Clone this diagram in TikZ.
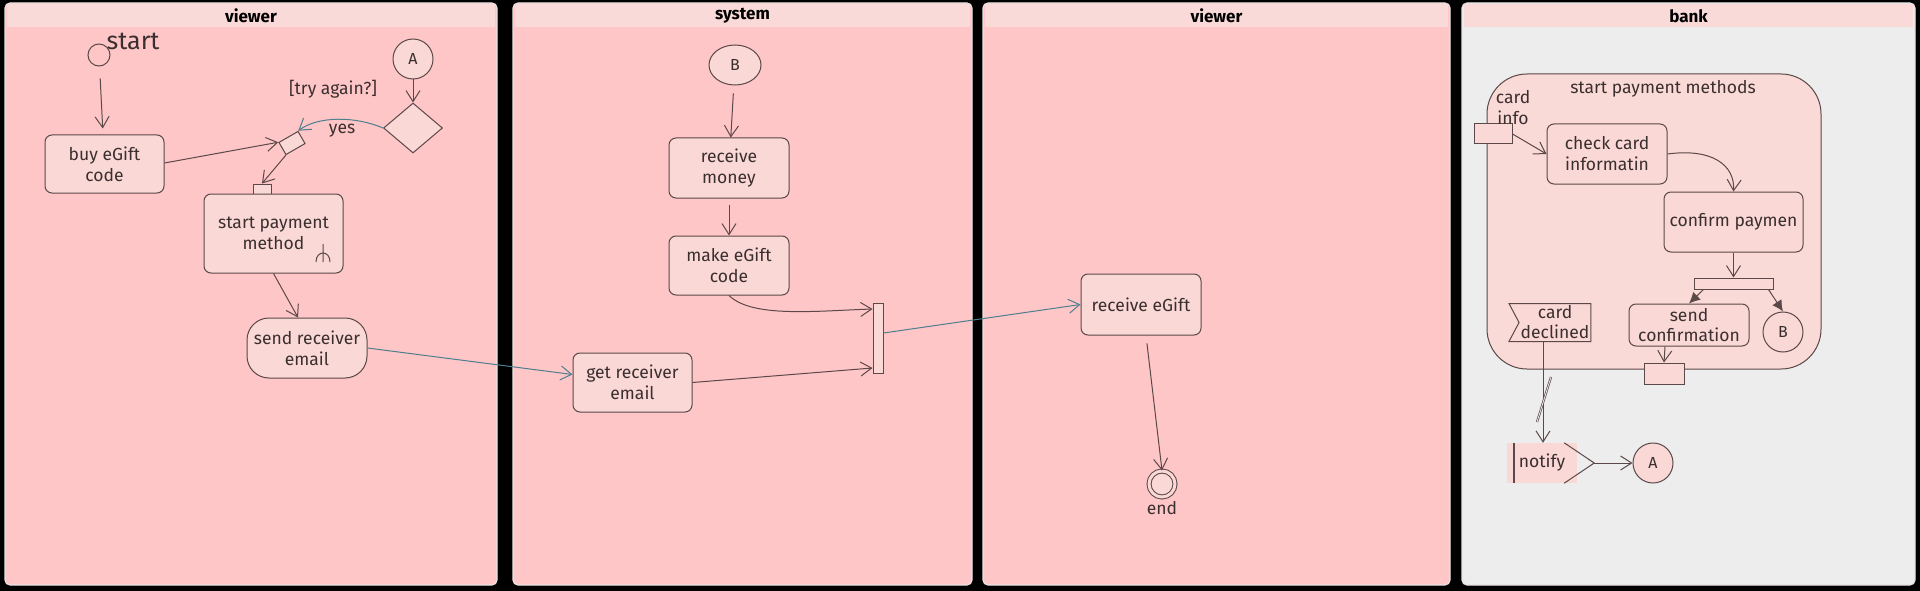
\documentclass[tikz,border=0pt]{standalone}
\usepackage{fontspec}
\setmainfont{Fira Sans}
\usetikzlibrary{arrows.meta,shapes.geometric,shapes.symbols,positioning,calc}
\definecolor{lanepink}{HTML}{FFC6C8}
\definecolor{headpink}{HTML}{FADAD8}
\definecolor{boxfill}{HTML}{F9D8D6}
\definecolor{bankgray}{HTML}{EDEDED}
\definecolor{regionfill}{HTML}{FADAD6}
\definecolor{laneedge}{HTML}{E8E2E2}
\definecolor{lineclr}{HTML}{5B4848}
\definecolor{tealclr}{HTML}{4E7F8C}
\definecolor{textcol}{HTML}{3A2E2E}
\tikzset{
  % Define standard arrow tip
  >={Straight Barb[length=11pt,width=14pt]},
  % Define style for swimlanes
  lane/.style={draw=laneedge, line width=1.2pt, rounded corners=5pt},
  lanetitle/.style={font=\bfseries\fontsize{17}{20}\selectfont, text=black},
  % Define style for boxes
  box/.style={
    rectangle,
    rounded corners=7pt,
    draw=lineclr, line width=1pt,
    fill=boxfill,
    align=center,
    inner sep=1pt,
    text=textcol,
    font=\fontsize{17.5}{21}\selectfont},
  % Define round style
  round/.style={
    circle, draw=lineclr, fill=boxfill, line width=1pt,
    minimum size=40pt, inner sep=0pt,
    text=textcol, font=\fontsize{16}{18}\selectfont},
  % pins and bars
  pinbox/.style={rectangle, draw=lineclr, fill=boxfill, line width=1pt, inner sep=0pt},
  barbox/.style={rectangle, draw=lineclr, fill=boxfill, line width=1pt, inner sep=0pt},
  % plain text
  txt/.style={text=textcol, inner sep=1pt, font=\fontsize{17.5}{21}\selectfont},
  % Define arrow style
  arrow/.style={->, draw=lineclr, line width=1pt},
  flow/.style={->, draw=tealclr, line width=1pt},
  forkarrow/.style={-{Latex[length=11pt,width=11pt]}, draw=lineclr, line width=1pt},
}
\def\swimlane#1#2#3#4#5{ % #1 name, #2 left, #3 right, #4 fill, #5 title
\filldraw[lane, fill=#4] (#2,3) rectangle (#3,585);
\fill[headpink] (#2+2,4) rectangle (#3-2,27);
\node[lanetitle] (#1) at ({(#2+#3)/2},16) {#5};
}

\begin{document}
\begin{tikzpicture}[x=1pt, y=-1pt]
  \fill[black] (0,0) rectangle (1920,591);
  % lanes
  \swimlane{laneA}{5}{497}{lanepink}{viewer}
  \swimlane{laneB}{513}{972}{lanepink}{system}
  \swimlane{laneC}{983}{1450}{lanepink}{viewer}
  \swimlane{laneD}{1462}{1915}{bankgray}{bank}

  % viewer
  \node[circle, draw=lineclr, fill=lanepink, line width=1pt, minimum size=22pt, inner sep=0pt] (start) at (99,55) {};
  \node[txt, font=\fontsize{25}{28}\selectfont] (startlbl) at (133,41) {start};
  \node[box, minimum width=119pt, minimum height=58pt] (buy) at (104.5,164) {buy eGift\\code};
  \node[round] (A) at (413,59) {A};
  \node[diamond, draw=lineclr, fill=boxfill, line width=1pt, minimum width=59pt, minimum height=50pt, inner sep=0pt] (decide) at (413,128) {};
  \node[txt] (try) at (333,89) {[try again?]};
  \node[rectangle, draw=lineclr, fill=boxfill, line width=1pt, minimum width=22pt, minimum height=14pt, inner sep=0pt, rotate=30] (merge) at (292,143) {};
  \node[pinbox, minimum width=18pt, minimum height=10pt] (payin) at (262,189) {};
  \node[box, minimum width=139pt, minimum height=79pt] (pay) at (273.5,233.5) {start payment\\method};
  \draw[lineclr, line width=1pt] (323,244) -- (323,262) (316,262) .. controls (316,250) and (330,250) .. (330,262);
  \node[box, rounded corners=22pt, minimum width=120pt, minimum height=60pt] (sendmail) at (307,348) {send receiver\\email};

  \draw[arrow, shorten <=12pt, shorten >=6pt] (start) -- (buy);
  \draw[arrow] (A) -- (decide.north);
  \draw[arrow] (buy.east) ++(0,-1) -- (merge.north west);
  \draw[flow] (decide.west) .. controls (355,116) and (318,116) .. node[txt, pos=0.45, below=3pt] (yes) {yes} (merge.north east);
  \draw[arrow] (merge.south west) -- (payin.north);
  \draw[arrow] (pay.south) -- ($(sendmail.north)+(-9,0)$);

  % system
  \node[round, ellipse, minimum width=52pt, minimum height=40pt] (B) at (735,65) {B};
  \node[box, minimum width=120pt, minimum height=60pt] (money) at (729,168) {receive\\money};
  \node[box, minimum width=120pt, minimum height=59pt] (make) at (729,265.5) {make eGift\\code};
  \node[box, minimum width=119pt, minimum height=59pt] (getmail) at (632.5,382.5) {get receiver\\email};
  \node[barbox, minimum width=10pt, minimum height=70pt] (join) at (878,338) {};

  \draw[flow] (sendmail.east) -- ($(getmail.west)+(0,-8)$);
  \draw[arrow, shorten <=8pt] (B) -- (money);
  \draw[arrow, shorten <=6pt] (money) -- (make);
  \draw[arrow] (make.south) .. controls (752,318) and (815,311) .. ($(join.west)+(0,-29)$);
  \draw[arrow] (getmail.east) -- ($(join.west)+(0,30)$);

  % viewer again
  \node[box, minimum width=120pt, minimum height=61pt] (gift) at (1141,304.5) {receive eGift};
  \node[circle, draw=lineclr, line width=1pt, double=boxfill, double distance=3pt, fill=boxfill, minimum size=26pt, inner sep=0pt] (end) at (1162,484) {};
  \node[txt] (endlbl) at (1162,508) {end};

  \draw[flow] ($(join.east)+(0,-5)$) -- (gift.west);
  \draw[arrow, shorten <=8pt] ($(gift.south)+(5,0)$) -- (end.north);

  % bank
  \node[rectangle, rounded corners=40pt, draw=lineclr, fill=regionfill, line width=1pt, minimum width=334pt, minimum height=295pt] (region) at (1654,221.5) {};
  \node[txt] (regiontitle) at (1663,89) {start payment methods};
  \node[pinbox, minimum width=38pt, minimum height=20pt] (cardpin) at (1493,134) {};
  \node[txt, align=center, font=\fontsize{17.5}{21}\selectfont] (cardlbl) at (1513,108) {card\\info};
  \node[box, minimum width=120pt, minimum height=60pt] (check) at (1607,154) {check card\\informatin};
  \node[box, minimum width=139pt, minimum height=60pt] (confirm) at (1733.5,222) {confirm paymen};
  \node[barbox, minimum width=79pt, minimum height=11pt] (fork) at (1733.5,283.5) {};
  \node[box, minimum width=120pt, minimum height=42pt, font=\fontsize{17.5}{20}\selectfont] (sendconf) at (1689,325) {send\\confirmation};
  \node[round] (B2) at (1783,332) {B};
  \node[signal, signal to=nowhere, signal from=west, signal pointer angle=124, draw=lineclr, fill=boxfill, line width=1pt, minimum width=82pt, minimum height=38pt, inner sep=1pt, align=center, text=textcol, font=\fontsize{17.5}{20}\selectfont] (declined) at (1555,322.5) {card\\declined};
  \node[pinbox, minimum width=40pt, minimum height=21pt] (outpin) at (1664,373.5) {};
  \node[rectangle, fill=boxfill, minimum width=70pt, minimum height=40pt, inner sep=1pt, text=textcol, font=\fontsize{17.5}{20}\selectfont] (notify) at (1542,463) {notify};
  \draw[lineclr, line width=1pt] ($(notify.north east)+(-13,0)$) -- ($(notify.east)+(17,0)$) -- ($(notify.south east)+(-13,0)$);
  \draw[lineclr, line width=1.5pt] ($(notify.north west)+(7,0)$) -- ($(notify.south west)+(7,0)$);
  \node[round] (A2) at (1653,463) {A};

  \draw[arrow] (cardpin.east) -- (check.west);
  \draw[arrow] (check.east) .. controls (1712,148) and (1735,165) .. (confirm.north);
  \draw[arrow] (confirm.south) -- (fork.north);
  \draw[forkarrow] ($(fork.south west)+(10,0)$) -- (sendconf.north);
  \draw[forkarrow] ($(fork.south east)+(-5,0)$) -- (B2.north);
  \draw[arrow] ($(sendconf.south)+(-24,0)$) -- (outpin.north);
  \draw[arrow] ($(declined.south)+(-12,0)$) -- ($(notify.north)+(1,0)$);
  \draw[lineclr, line width=0.7pt, double=bankgray, double distance=0.8pt] (1551,377) -- (1537,422);
  \draw[arrow] ($(notify.east)+(17,0)$) -- (A2.west);
\end{tikzpicture}
\end{document}
